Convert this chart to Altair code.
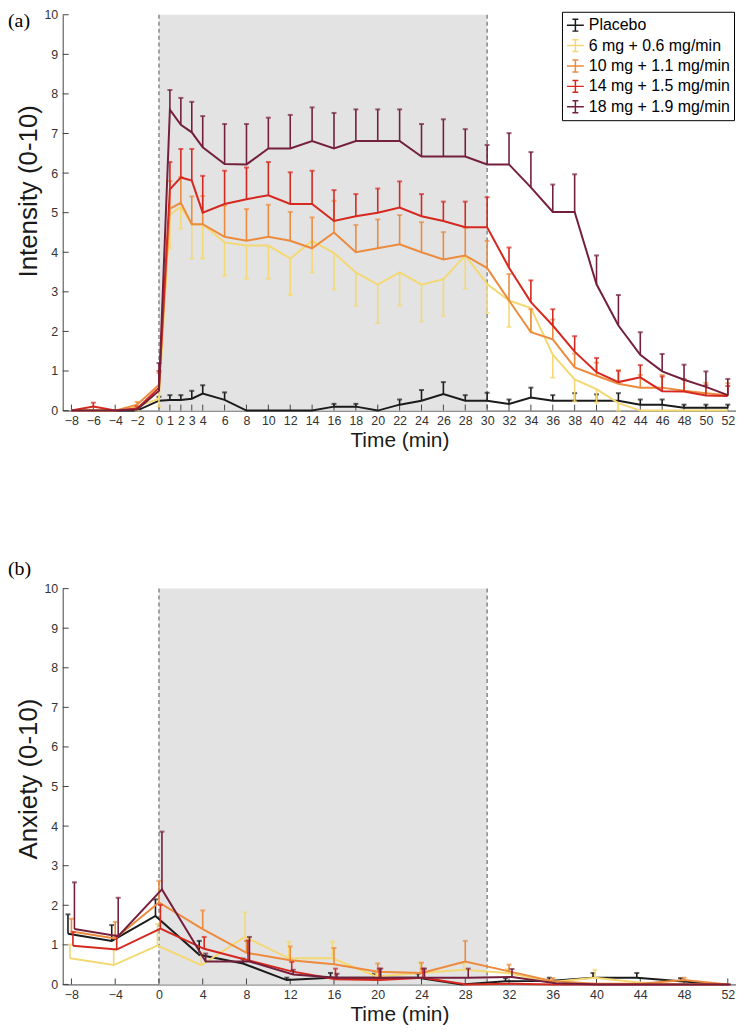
import altair as alt
import pandas as pd

# ---------------- data ----------------
series = ["Placebo", "6 mg + 0.6 mg/min", "10 mg + 1.1 mg/min",
          "14 mg + 1.5 mg/min", "18 mg + 1.9 mg/min"]
colors = ["#1b1b1b", "#F4D874", "#EC8B3E", "#D5281F", "#74203C"]

# Panel (a): Intensity
time_a = [-8, -6, -4, -2, 0, 1, 2, 3, 4, 6, 8, 10, 12, 14, 16, 18, 20, 22, 24, 26,
          28, 30, 32, 34, 36, 38, 40, 42, 44, 46, 48, 50, 52]
placebo_a = [0, 0, 0, 0, 0.25, 0.27, 0.27, 0.3, 0.43, 0.27, 0, 0, 0, 0, 0.1, 0.1, 0, 0.15,
             0.25, 0.42, 0.25, 0.25, 0.17, 0.33, 0.25, 0.25, 0.25, 0.25, 0.15, 0.15, 0.07, 0.07, 0.07]
placebo_a_err = [0, 0, 0, 0, 0.1, 0.12, 0.12, 0.2, 0.21, 0.19, 0, 0, 0, 0, 0.07, 0.07, 0, 0.13,
                 0.27, 0.3, 0.14, 0.2, 0.11, 0.25, 0.14, 0.19, 0.16, 0.19, 0.13, 0.13, 0.08, 0.08, 0.08]
dose6_a = [0, 0, 0, 0.1, 0.3, 4.95, 5.15, 4.7, 4.7, 4.25, 4.17, 4.17, 3.84, 4.29, 3.98, 3.49,
           3.18, 3.49, 3.18, 3.32, 3.92, 3.2, 2.78, 2.59, 1.41, 0.79, 0.54, 0.19, 0, 0, 0, 0, 0]
dose6_a_err = [0, 0, 0, 0.1, 0.2, 0.85, 0.55, 0.86, 0.86, 0.84, 0.84, 0.84, 0.92, 0.8, 0.92, 0.84,
               0.97, 0.84, 0.93, 0.93, 0.84, 0.73, 0.67, 0.59, 0.58, 0.56, 0.34, 0.19, 0, 0, 0, 0, 0]
dose10_a = [0, 0, 0, 0.15, 0.65, 5.1, 5.25, 4.71, 4.71, 4.39, 4.29, 4.39, 4.29, 4.1, 4.5, 4.0,
            4.1, 4.2, 4.0, 3.82, 3.92, 3.6, 2.78, 1.98, 1.8, 1.09, 0.88, 0.68, 0.58, 0.58, 0.5, 0.44, 0.39]
dose10_a_err = [0, 0, 0, 0.07, 0.3, 0.7, 0.65, 0.7, 0.71, 0.79, 0.8, 0.81, 0.73, 0.78, 0.8, 0.69,
                0.73, 0.74, 0.76, 0.69, 0.7, 0.69, 0.67, 0.58, 0.5, 0.35, 0.33, 0.33, 0.32, 0.32, 0.3, 0.26, 0.3]
dose14_a = [0, 0.1, 0, 0.05, 0.58, 5.59, 5.89, 5.81, 5.0, 5.22, 5.34, 5.44, 5.22, 5.22, 4.79, 4.91,
            5.0, 5.13, 4.91, 4.79, 4.63, 4.63, 3.61, 2.74, 2.15, 1.49, 0.97, 0.72, 0.84, 0.49, 0.48, 0.38, 0.37]
dose14_a_err = [0, 0.1, 0, 0.05, 0.42, 0.69, 0.72, 0.8, 0.93, 0.84, 0.8, 0.84, 0.8, 0.84, 0.78, 0.56,
                0.61, 0.66, 0.56, 0.49, 0.65, 0.76, 0.51, 0.55, 0.41, 0.39, 0.36, 0.29, 0.31, 0.37, 0.3, 0.26, 0.25]
dose18_a = [0, 0, 0, 0.03, 0.5, 7.6, 7.22, 7.03, 6.65, 6.23, 6.22, 6.62, 6.62, 6.81, 6.62, 6.81,
            6.81, 6.81, 6.42, 6.42, 6.42, 6.22, 6.22, 5.64, 5.02, 5.02, 3.19, 2.15, 1.41, 0.99, 0.78, 0.6, 0.39]
dose18_a_err = [0, 0, 0, 0, 0.7, 0.5, 0.68, 0.77, 0.79, 1.01, 1.02, 0.78, 0.85, 0.85, 0.9, 0.8,
                0.8, 0.8, 0.82, 0.94, 0.69, 0.49, 0.79, 0.89, 0.69, 0.95, 0.73, 0.77, 0.57, 0.44, 0.38, 0.39, 0.41]

# Panel (b): Anxiety
time_b = [-8, -4, 0, 4, 8, 12, 16, 20, 24, 28, 32, 36, 40, 44, 48, 52]
placebo_b = [1.28, 1.1, 1.73, 0.75, 0.53, 0.11, 0.17, 0.17, 0.17, 0.0, 0.08, 0.09, 0.17, 0.17, 0.08, 0]
placebo_b_err = [0.49, 0.4, 0.42, 0.35, 0.12, 0.06, 0.12, 0.1, 0.1, 0, 0.08, 0.08, 0.12, 0.12, 0.08, 0]
dose6_b = [0.66, 0.49, 0.98, 0.49, 1.2, 0.66, 0.66, 0.2, 0.29, 0.37, 0.29, 0.06, 0.17, 0.05, 0, 0]
dose6_b_err = [0.35, 0.4, 0.55, 0.3, 0.62, 0.42, 0.42, 0.1, 0.26, 0.15, 0.1, 0.05, 0.2, 0, 0, 0]
dose10_b = [1.34, 1.16, 2.07, 1.4, 0.8, 0.61, 0.51, 0.32, 0.29, 0.58, 0.33, 0.08, 0.02, 0.02, 0.11, 0]
dose10_b_err = [0.32, 0.42, 0.55, 0.47, 0.3, 0.35, 0.41, 0.21, 0.26, 0.52, 0.17, 0.08, 0, 0, 0.06, 0]
dose14_b = [0.98, 0.88, 1.41, 0.9, 0.61, 0.33, 0.13, 0.11, 0.17, 0.0, 0.02, 0, 0, 0, 0, 0]
dose14_b_err = [0.34, 0.36, 0.6, 0.3, 0.5, 0.24, 0.27, 0.29, 0.23, 0, 0, 0, 0, 0, 0, 0]
dose18_b = [1.4, 1.22, 2.4, 0.58, 0.58, 0.25, 0.17, 0.17, 0.17, 0.17, 0.19, 0.03, 0, 0, 0, 0]
dose18_b_err = [1.18, 0.97, 1.46, 0.2, 0.62, 0.12, 0.1, 0.23, 0.23, 0.23, 0.2, 0, 0, 0, 0, 0]

ticks_a = [-8, -6, -4, -2, 0, 1, 2, 3, 4] + list(range(6, 53, 2))
ticks_b = list(range(-8, 53, 4))
ticks_y = list(range(0, 11))
infusion = {"start": [0], "end": [30], "lo": [0], "hi": [10]}
infusion_edges = [0, 30]

# ---------------- helpers ----------------
FONT = "Liberation Sans"


def long_df(xs, means, errs, down_series):
    rows = []
    for s, m, e in zip(series, means, errs):
        sign = -1 if s in down_series else 1
        for x, v, er in zip(xs, m, e):
            rows.append({"time": x, "series": s, "mean": v, "err": er, "end": v + sign * er})
    return pd.DataFrame(rows)


df_a = long_df(time_a, [placebo_a, dose6_a, dose10_a, dose14_a, dose18_a],
               [placebo_a_err, dose6_a_err, dose10_a_err, dose14_a_err, dose18_a_err],
               down_series=[series[1]])
df_b = long_df(time_b, [placebo_b, dose6_b, dose10_b, dose14_b, dose18_b],
               [placebo_b_err, dose6_b_err, dose10_b_err, dose14_b_err, dose18_b_err],
               down_series=[])

sym = "M-1,0H1M0,-0.7V0.7M-0.35,-0.7H0.35M-0.35,0.7H0.35"


def panel(df, ticks, ytitle, title_shift, tag, tag_y, jitter, H, show_legend):
    W = 677
    xs = alt.Scale(domain=[-8.8, 52.75], nice=False, zero=False)
    ys = alt.Scale(domain=[0, 10], nice=False, zero=False)
    xaxis = alt.Axis(values=ticks, title="Time (min)", format="d", grid=False, ticks=False,
                     labelFont=FONT, labelFontSize=12.5, labelColor="#333", labelPadding=4,
                     labelOverlap=False, labelFlush=False,
                     titleFont=FONT, titleFontSize=21, titleFontWeight="normal",
                     titleColor="#1a1a1a", titlePadding=3, domainColor="#444", domainWidth=1)
    yaxis = alt.Axis(values=ticks_y, title=ytitle, format="d", grid=False, ticks=False,
                     labelFont=FONT, labelFontSize=12.5, labelColor="#333", labelPadding=5,
                     labelOverlap=False, labelFlush=False,
                     titleFont=FONT, titleFontSize=26, titleFontWeight="normal",
                     titleColor="#1a1a1a", titlePadding=2, titleY=H / 2 - title_shift,
                     domainColor="#444", domainWidth=1)
    cscale = alt.Scale(domain=series, range=colors)
    if show_legend:
        legend = alt.Legend(title=None, orient="none", legendX=502, legendY=-3,
                            labelFont=FONT, labelFontSize=16, labelColor="black",
                            labelOffset=4, labelLimit=400,
                            symbolType=sym, symbolSize=289, symbolStrokeWidth=1.5,
                            strokeColor="black", fillColor="white", padding=4,
                            rowPadding=1.5, cornerRadius=0)
    else:
        legend = None

    X = lambda f: alt.X(f, scale=xs, axis=xaxis)
    Y = lambda f: alt.Y(f, scale=ys, axis=yaxis)

    shade = alt.Chart(pd.DataFrame(infusion)).mark_rect(color="#e3e3e3").encode(
        x=X("start:Q"), x2="end:Q", y=Y("lo:Q"), y2="hi:Q")
    edges = alt.Chart(pd.DataFrame({"t": infusion_edges})).mark_rule(
        color="#6e6e6e", strokeWidth=1.2, strokeDash=[4, 3]).encode(
        x=X("t:Q"), y=alt.value(0), y2=alt.value(H))
    xt = alt.Chart(pd.DataFrame({"t": ticks})).mark_rule(color="#444", strokeWidth=1).encode(
        x=X("t:Q"), y=alt.value(H), y2=alt.value(H - 6))
    yt = alt.Chart(pd.DataFrame({"v": ticks_y})).mark_rule(color="#444", strokeWidth=1).encode(
        y=Y("v:Q"), x=alt.value(0), x2=alt.value(6))

    layers = [shade, edges, xt, yt]
    for i, s in enumerate(series):
        base = alt.Chart(df).transform_filter(alt.datum.series == s)
        bars = base.transform_filter("datum.err > 0").mark_rule(
            color=colors[i], strokeWidth=1.6, xOffset=jitter[i]).encode(
            x=X("time:Q"), y=Y("mean:Q"), y2="end:Q")
        caps = base.transform_filter("datum.err > 0").mark_tick(
            color=colors[i], orient="horizontal", size=5, thickness=2, xOffset=jitter[i]).encode(
            x=X("time:Q"), y=Y("end:Q"))
        line = base.mark_line(strokeWidth=2, xOffset=jitter[i]).encode(
            x=X("time:Q"), y=Y("mean:Q"),
            color=alt.Color("series:N", scale=cscale, legend=legend))
        layers += [bars, caps, line]

    tagc = alt.Chart(pd.DataFrame({"tag": [tag]})).mark_text(
        font="Liberation Serif", fontSize=20, align="left", baseline="middle",
        color="black").encode(x=alt.value(-55), y=alt.value(tag_y), text="tag:N")
    layers.append(tagc)
    return alt.layer(*layers).properties(width=W, height=H)


pa = panel(df_a, ticks_a, "Intensity (0-10)", 22, "(a)", 6, [0, 0, 0, 0, 0], 398, True)
pb = panel(df_b, ticks_b, "Anxiety (0-10)", 8, "(b)", -20, [-3.5, -1.5, 0, 1.5, 3], 398, False)

chart = (
    alt.vconcat(pa, pb, spacing=108)
    .resolve_scale(color="independent")
    .properties(padding={"top": -2, "left": 0, "right": 0, "bottom": 0}, background="white")
    .configure_view(stroke=None)
)

chart.save("out.html", embed_options={"renderer": "svg", "actions": False})
